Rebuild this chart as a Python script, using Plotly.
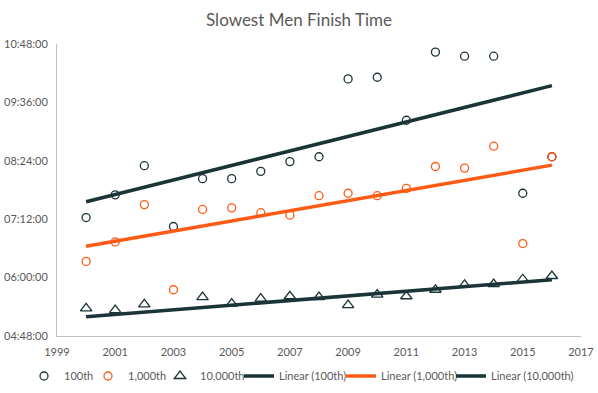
import numpy as np
import plotly.graph_objects as go

years = list(range(2000, 2017))
t100 = ["07:14", "07:42", "08:18", "07:03", "08:02", "08:02", "08:11", "08:23", "08:29",
        "10:05", "10:07", "09:14", "10:38", "10:33", "10:33", "07:44", "08:29"]
t1000 = ["06:20", "06:44", "07:30", "05:45", "07:24", "07:26", "07:20", "07:17", "07:41",
         "07:44", "07:41", "07:50", "08:17", "08:15", "08:42", "06:42", "08:29"]
# 2003 value lies below the axis minimum (hidden in the chart, implied by the trendline)
t10000 = ["05:22", "05:20", "05:27", "04:38", "05:36", "05:28", "05:34", "05:37", "05:36",
          "05:26", "05:39", "05:37", "05:45", "05:51", "05:52", "05:58", "06:02"]
x_ticks = list(range(1999, 2018, 2))
y_ticks = ["04:48:00", "06:00:00", "07:12:00", "08:24:00", "09:36:00", "10:48:00"]

DARK = "#1B3438"
ORANGE = "#FF5A14"
FONT = "Lato, 'Open Sans', sans-serif"
BASE = "1900-01-01 "
W, H = 598, 393


def to_dt(s):
    return None if s is None else BASE + s + ":00"


def to_h(s):
    h, m = s.split(":")
    return int(h) + int(m) / 60.0


def h_to_dt(h):
    total = int(round(h * 3600))
    return BASE + "%02d:%02d:%02d" % (total // 3600, (total % 3600) // 60, total % 60)


def trend(vals):
    xs = [y for y, v in zip(years, vals) if v is not None]
    ys = [to_h(v) for v in vals if v is not None]
    a, b = np.polyfit(xs, ys, 1)
    ends = [years[0], years[-1]]
    return ends, [h_to_dt(a * e + b) for e in ends]


fig = go.Figure()
series = [("100th", t100, DARK, "circle-open"),
          ("1,000th", t1000, ORANGE, "circle-open"),
          ("10,000th", t10000, DARK, "triangle-up-open")]
# legend text start positions (px) for each of the six entries
text_x = [64, 128, 200, 277, 379, 489]
legend_names = ["legend", "legend2", "legend3", "legend4", "legend5", "legend6"]

i = 0
for name, vals, col, sym in series:
    fig.add_trace(go.Scatter(
        x=years, y=[to_dt(v) for v in vals], mode="markers", name=name,
        legend=legend_names[i], cliponaxis=True,
        marker=dict(symbol=sym, size=8 if sym == "circle-open" else 10, color=col,
                    line=dict(width=1.3, color=col)),
    ))
    i += 1
for name, vals, col, sym in series:
    tx, ty = trend(vals)
    fig.add_trace(go.Scatter(
        x=tx, y=ty, mode="lines", name="Linear (%s)" % name,
        legend=legend_names[i],
        line=dict(color=col, width=3.5),
    ))
    i += 1

layout_legends = {}
for k, ln in enumerate(legend_names):
    offset = 40 if k < 3 else 38
    layout_legends[ln] = dict(
        xref="container", yref="container",
        x=(text_x[k] - offset) / W, xanchor="left",
        y=(H - 376) / H, yanchor="middle",
        orientation="h", font=dict(size=11, color="#595959", family=FONT),
        itemwidth=30, bgcolor="rgba(0,0,0,0)", borderwidth=0,
    )

fig.update_layout(
    width=W, height=H,
    margin=dict(l=57, r=17, t=44, b=57),
    paper_bgcolor="white", plot_bgcolor="white",
    font=dict(family=FONT, color="#595959", size=11),
    title=dict(text="Slowest Men Finish Time", x=0.5, xanchor="center", y=0.95, yanchor="middle",
               font=dict(size=17, color="#595959", family=FONT)),
    showlegend=True,
    **layout_legends,
)
fig.update_xaxes(range=[1999, 2017], tickvals=x_ticks, showgrid=False, zeroline=False,
                 showline=True, linecolor="#BFBFBF", linewidth=1, ticks="",
                 automargin=False, ticklabelstandoff=6,
                 tickfont=dict(size=11, color="#595959"))
fig.update_yaxes(type="date", range=[BASE + "04:48:00", BASE + "10:48:00"],
                 tickvals=[BASE + t for t in y_ticks], ticktext=y_ticks,
                 showgrid=False, zeroline=False, showline=True, linecolor="#BFBFBF",
                 linewidth=1, ticks="", automargin=False, ticklabelstandoff=6,
                 tickfont=dict(size=11, color="#595959"))

fig.write_html("out.html", config={"displayModeBar": False},
               post_script="document.body.style.margin='0';")
